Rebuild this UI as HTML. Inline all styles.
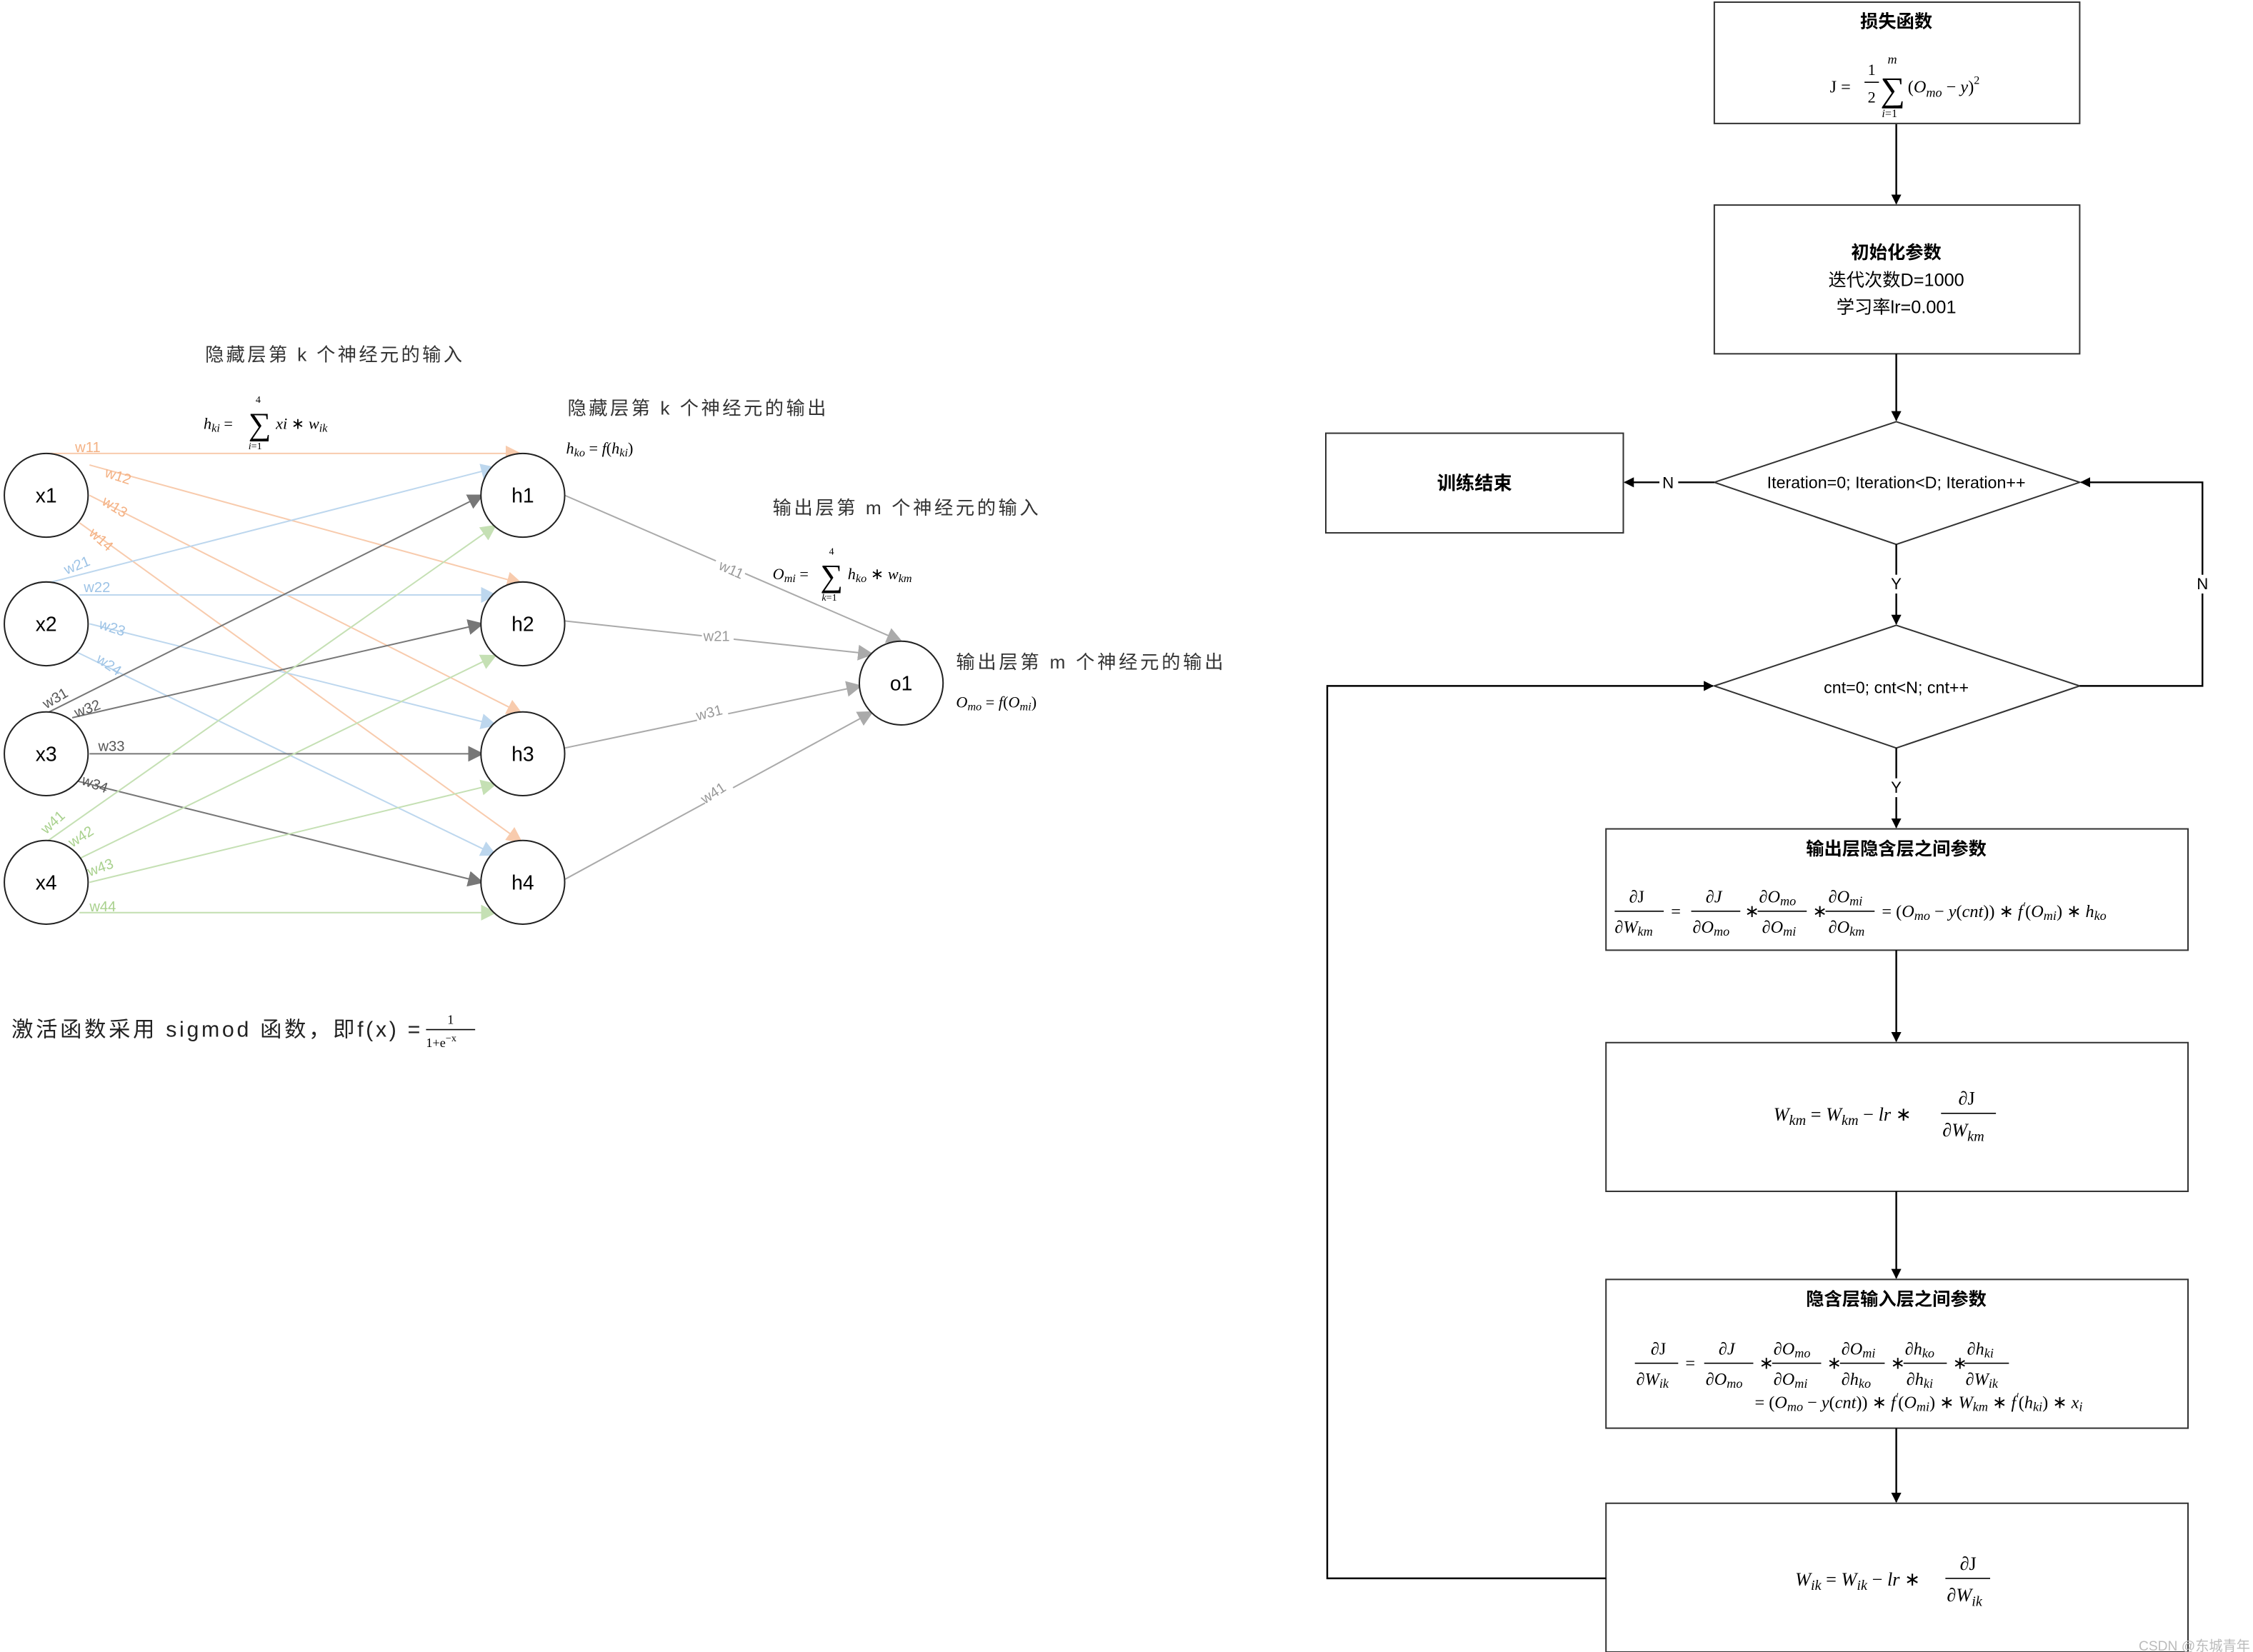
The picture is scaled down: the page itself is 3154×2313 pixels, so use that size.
<!DOCTYPE html>
<html><head><meta charset="utf-8"><style>
html,body{margin:0;padding:0;background:#fff;}
svg{display:block;}
text{font-family:"Liberation Sans","Noto Sans CJK SC",sans-serif;}
text.m, .m text, .m tspan, text.m tspan{font-family:"Liberation Serif","Noto Serif CJK SC",serif;font-style:italic;}
text.n, .m text.n, .m tspan.n, text.m tspan.n, .n tspan{font-family:"Liberation Serif",serif;font-style:normal;}
</style></head><body>
<svg width="3154" height="2313" viewBox="0 0 1560 1144" preserveAspectRatio="none" xmlns="http://www.w3.org/2000/svg">
<defs>
<marker id="aK" viewBox="0 0 10 10" refX="9" refY="5" markerWidth="7" markerHeight="7" markerUnits="userSpaceOnUse" orient="auto"><path d="M0,0L10,5L0,10z" fill="#000"/></marker>
<marker id="aD" viewBox="0 0 10 10" refX="9" refY="5" markerWidth="11" markerHeight="11" markerUnits="userSpaceOnUse" orient="auto"><path d="M0,0L10,5L0,10z" fill="#777"/></marker>
<marker id="aG" viewBox="0 0 10 10" refX="9" refY="5" markerWidth="11" markerHeight="11" markerUnits="userSpaceOnUse" orient="auto"><path d="M0,0L10,5L0,10z" fill="#aaa"/></marker>
<marker id="aO" viewBox="0 0 10 10" refX="9" refY="5" markerWidth="11" markerHeight="11" markerUnits="userSpaceOnUse" orient="auto"><path d="M0,0L10,5L0,10z" fill="#f8cbad"/></marker>
<marker id="aB" viewBox="0 0 10 10" refX="9" refY="5" markerWidth="11" markerHeight="11" markerUnits="userSpaceOnUse" orient="auto"><path d="M0,0L10,5L0,10z" fill="#bdd7ee"/></marker>
<marker id="aN" viewBox="0 0 10 10" refX="9" refY="5" markerWidth="11" markerHeight="11" markerUnits="userSpaceOnUse" orient="auto"><path d="M0,0L10,5L0,10z" fill="#c5e0b4"/></marker>
</defs>

<g fill="none" stroke-width="1">
<g stroke="#f8cbad" marker-end="url(#aO)">
<line x1="32" y1="314" x2="360" y2="314"/>
<line x1="62" y1="322" x2="361" y2="404"/>
<line x1="62" y1="343" x2="361" y2="494"/>
<line x1="55" y1="362" x2="361" y2="583"/>
</g>
<g stroke="#bdd7ee" marker-end="url(#aB)">
<line x1="32" y1="404" x2="343" y2="324"/>
<line x1="55" y1="412" x2="343" y2="412"/>
<line x1="62" y1="432" x2="343" y2="502"/>
<line x1="52" y1="451" x2="343" y2="592"/>
</g>
<g stroke="#777" marker-end="url(#aD)">
<line x1="32" y1="494" x2="334" y2="343"/>
<line x1="50" y1="497" x2="334" y2="432"/>
<line x1="62" y1="522" x2="334" y2="522"/>
<line x1="50" y1="540" x2="334" y2="611"/>
</g>
<g stroke="#c5e0b4" marker-end="url(#aN)">
<line x1="32" y1="583" x2="343" y2="364"/>
<line x1="52" y1="596" x2="343" y2="454"/>
<line x1="62" y1="611" x2="343" y2="543"/>
<line x1="55" y1="632" x2="343" y2="632"/>
</g>
<g stroke="#aaa" marker-end="url(#aG)">
<line x1="391" y1="343" x2="624" y2="444"/>
<line x1="391" y1="430" x2="604" y2="453"/>
<line x1="391" y1="518" x2="596" y2="475"/>
<line x1="391" y1="609" x2="604" y2="493"/>
</g>
</g>

<g font-size="10">
<g fill="#f4b183">
<text x="52" y="313">w11</text>
<text x="72" y="330" transform="rotate(18 72 330)">w12</text>
<text x="70" y="349" transform="rotate(32 70 349)">w13</text>
<text x="61" y="370" transform="rotate(42 61 370)">w14</text>
</g>
<g fill="#9dc3e6">
<text x="46" y="398" transform="rotate(-22 46 398)">w21</text>
<text x="58" y="410">w22</text>
<text x="68" y="435" transform="rotate(18 68 435)">w23</text>
<text x="66" y="458" transform="rotate(34 66 458)">w24</text>
</g>
<g fill="#555">
<text x="32" y="491" transform="rotate(-30 32 491)">w31</text>
<text x="53" y="497" transform="rotate(-20 53 497)">w32</text>
<text x="68" y="520">w33</text>
<text x="56" y="543" transform="rotate(20 56 543)">w34</text>
</g>
<g fill="#a9d18e">
<text x="32" y="578" transform="rotate(-42 32 578)">w41</text>
<text x="50" y="587" transform="rotate(-32 50 587)">w42</text>
<text x="62" y="607" transform="rotate(-20 62 607)">w43</text>
<text x="62" y="631">w44</text>
</g>
<g fill="#999">
<rect x="496" y="385" width="22" height="10" fill="#fff" transform="rotate(24 507 390)"/>
<text x="497" y="394" transform="rotate(24 497 394)">w11</text>
<rect x="486" y="435" width="22" height="10" fill="#fff"/>
<text x="487" y="444">w21</text>
<rect x="482" y="490" width="22" height="10" fill="#fff" transform="rotate(-14 493 495)"/>
<text x="483" y="499" transform="rotate(-14 483 499)">w31</text>
<rect x="487" y="546" width="22" height="10" fill="#fff" transform="rotate(-33 498 551)"/>
<text x="488" y="557" transform="rotate(-33 488 557)">w41</text>
</g>
</g>

<g fill="#fff" stroke="#222" stroke-width="1">
<ellipse cx="32" cy="343" rx="29" ry="29"/>
<ellipse cx="32" cy="432" rx="29" ry="29"/>
<ellipse cx="32" cy="522" rx="29" ry="29"/>
<ellipse cx="32" cy="611" rx="29" ry="29"/>
<ellipse cx="362" cy="343" rx="29" ry="29"/>
<ellipse cx="362" cy="432" rx="29" ry="29"/>
<ellipse cx="362" cy="522" rx="29" ry="29"/>
<ellipse cx="362" cy="611" rx="29" ry="29"/>
<ellipse cx="624" cy="473" rx="29" ry="29"/>
</g>
<g font-size="14" text-anchor="middle" fill="#000">
<text x="32" y="348">x1</text><text x="32" y="437">x2</text><text x="32" y="527">x3</text><text x="32" y="616">x4</text>
<text x="362" y="348">h1</text><text x="362" y="437">h2</text><text x="362" y="527">h3</text><text x="362" y="616">h4</text>
<text x="624" y="478">o1</text>
</g>

<g font-size="13" fill="#333">
<text x="142" y="250" textLength="178" lengthAdjust="spacing">隐藏层第 k 个神经元的输入</text>
<text x="393" y="287" textLength="179" lengthAdjust="spacing">隐藏层第 k 个神经元的输出</text>
<text x="535" y="356" textLength="184" lengthAdjust="spacing">输出层第 m 个神经元的输入</text>
<text x="662" y="463" textLength="185" lengthAdjust="spacing">输出层第 m 个神经元的输出</text>
</g>
<g fill="#000">
<text class="m" x="141" y="297" font-size="11">h<tspan font-size="8" dy="2">ki</tspan><tspan class="n" dy="-2"> = </tspan></text>
<text class="n" x="172" y="301" font-size="22">∑</text>
<text class="n" x="177" y="279" font-size="7">4</text>
<text class="m" x="172" y="311" font-size="7">i<tspan class="n">=1</tspan></text>
<text class="m" x="191" y="297" font-size="11">xi <tspan class="n">∗</tspan> w<tspan font-size="8" dy="2">ik</tspan></text>

<text class="m" x="392" y="314" font-size="11">h<tspan font-size="8" dy="2">ko</tspan><tspan class="n" dy="-2"> = </tspan>f<tspan class="n">(</tspan>h<tspan font-size="8" dy="2">ki</tspan><tspan class="n" dy="-2">)</tspan></text>

<text class="m" x="535" y="401" font-size="11">O<tspan font-size="8" dy="2">mi</tspan><tspan class="n" dy="-2"> = </tspan></text>
<text class="n" x="568" y="406" font-size="22">∑</text>
<text class="n" x="574" y="384" font-size="7">4</text>
<text class="m" x="569" y="416" font-size="7">k<tspan class="n">=1</tspan></text>
<text class="m" x="587" y="401" font-size="11">h<tspan font-size="8" dy="2">ko</tspan><tspan class="n" dy="-2"> ∗ </tspan>w<tspan font-size="8" dy="2">km</tspan></text>

<text class="m" x="662" y="490" font-size="11">O<tspan font-size="8" dy="2">mo</tspan><tspan class="n" dy="-2"> = </tspan>f<tspan class="n">(</tspan>O<tspan font-size="8" dy="2">mi</tspan><tspan class="n" dy="-2">)</tspan></text>

<text x="8" y="718" font-size="15" fill="#222" textLength="283" lengthAdjust="spacing">激活函数采用 sigmod 函数，即f(x) =</text>
<text class="n" x="312" y="709" font-size="9" text-anchor="middle">1</text>
<line x1="295" y1="713" x2="329" y2="713" stroke="#000" stroke-width="0.8"/>
<text class="n" x="295" y="725" font-size="9">1+<tspan class="m">e</tspan><tspan font-size="7" dy="-4">−<tspan class="m">x</tspan></tspan></text>
</g>

<g fill="#fff" stroke="#333" stroke-width="1">
<rect x="1187" y="1.5" width="253" height="84"/>
<rect x="1187" y="142" width="253" height="103"/>
<rect x="918" y="300" width="206" height="69"/>
<polygon points="1187,334 1313,292 1440,334 1313,377"/>
<polygon points="1187,475 1313,433 1440,475 1313,518"/>
<rect x="1112" y="574" width="403" height="84"/>
<rect x="1112" y="722" width="403" height="103"/>
<rect x="1112" y="886" width="403" height="103"/>
<rect x="1112" y="1041" width="403" height="103"/>
</g>
<g fill="none" stroke="#000" stroke-width="1.2">
<line x1="1313" y1="86" x2="1313" y2="141" marker-end="url(#aK)"/>
<line x1="1313" y1="245" x2="1313" y2="291" marker-end="url(#aK)"/>
<line x1="1313" y1="377" x2="1313" y2="398"/>
<line x1="1313" y1="411" x2="1313" y2="432" marker-end="url(#aK)"/>
<line x1="1313" y1="518" x2="1313" y2="539"/>
<line x1="1313" y1="552" x2="1313" y2="573" marker-end="url(#aK)"/>
<line x1="1187" y1="334" x2="1162" y2="334"/>
<line x1="1149" y1="334" x2="1125" y2="334" marker-end="url(#aK)"/>
<polyline points="1440,475 1525,475 1525,411"/>
<polyline points="1525,398 1525,334 1441,334" marker-end="url(#aK)"/>
<polyline points="1112,1093 919,1093 919,475 1186,475" marker-end="url(#aK)"/>
<line x1="1313" y1="658" x2="1313" y2="721" marker-end="url(#aK)"/>
<line x1="1313" y1="825" x2="1313" y2="885" marker-end="url(#aK)"/>
<line x1="1313" y1="989" x2="1313" y2="1040" marker-end="url(#aK)"/>
</g>
<g font-size="11" fill="#000" text-anchor="middle">
<text x="1313" y="408">Y</text>
<text x="1313" y="549">Y</text>
<text x="1525" y="408">N</text>
<text x="1155" y="338">N</text>
<text x="1313" y="338" font-size="11.5">Iteration=0; Iteration&lt;D; Iteration++</text>
<text x="1313" y="480" font-size="11.5">cnt=0; cnt&lt;N; cnt++</text>
<text x="1021" y="339" font-size="13" font-weight="bold">训练结束</text>
<text x="1313" y="19" font-size="12.5" font-weight="bold">损失函数</text>
<text x="1313" y="179" font-size="12.5" font-weight="bold">初始化参数</text>
<text x="1313" y="198" font-size="12.5">迭代次数D=1000</text>
<text x="1313" y="217" font-size="12.5">学习率lr=0.001</text>
<text x="1313" y="592" font-size="12.5" font-weight="bold">输出层隐含层之间参数</text>
<text x="1313" y="904" font-size="12.5" font-weight="bold">隐含层输入层之间参数</text>
</g>

<g fill="#000">
<text class="n" x="1267" y="64" font-size="12">J =</text>
<text class="n" x="1296" y="52" font-size="11" text-anchor="middle">1</text>
<line x1="1291" y1="57" x2="1301" y2="57" stroke="#000" stroke-width="0.8"/>
<text class="n" x="1296" y="71" font-size="11" text-anchor="middle">2</text>
<text class="n" x="1302" y="70" font-size="24">∑</text>
<text class="m" x="1307" y="44" font-size="9">m</text>
<text class="m" x="1303" y="81" font-size="8">i<tspan class="n">=1</tspan></text>
<text class="m" x="1321" y="64" font-size="12"><tspan class="n">(</tspan>O<tspan font-size="9" dy="3">mo</tspan><tspan class="n" dy="-3"> − </tspan>y<tspan class="n">)</tspan><tspan class="n" font-size="8" dy="-6">2</tspan></text>
</g>

<g fill="#000" font-size="12">
<g class="m">
<text x="1128" y="625" class="n">∂J</text>
<text x="1118" y="646">∂W<tspan font-size="9" dy="2">km</tspan></text>
<text x="1157" y="635" class="n">=</text>
<text x="1181" y="625">∂J</text>
<text x="1172" y="646">∂O<tspan font-size="9" dy="2">mo</tspan></text>
<text x="1208" y="635" class="n">∗</text>
<text x="1218" y="625">∂O<tspan font-size="9" dy="2">mo</tspan></text>
<text x="1220" y="646">∂O<tspan font-size="9" dy="2">mi</tspan></text>
<text x="1255" y="635" class="n">∗</text>
<text x="1266" y="625">∂O<tspan font-size="9" dy="2">mi</tspan></text>
<text x="1266" y="646">∂O<tspan font-size="9" dy="2">km</tspan></text>
<text x="1303" y="635"><tspan class="n">= (</tspan>O<tspan font-size="9" dy="2">mo</tspan><tspan class="n" dy="-2"> − </tspan>y<tspan class="n">(</tspan>cnt<tspan class="n">)) ∗ </tspan>f<tspan font-size="8" dy="-5">′</tspan><tspan class="n" dy="5">(</tspan>O<tspan font-size="9" dy="2">mi</tspan><tspan class="n" dy="-2">) ∗ </tspan>h<tspan font-size="9" dy="2">ko</tspan></text>
</g>
<g stroke="#000" stroke-width="0.8">
<line x1="1118" y1="631" x2="1152" y2="631"/>
<line x1="1171" y1="631" x2="1205" y2="631"/>
<line x1="1217" y1="631" x2="1251" y2="631"/>
<line x1="1264" y1="631" x2="1298" y2="631"/>
</g>
</g>

<g fill="#000" font-size="13">
<text class="m" x="1228" y="776">W<tspan font-size="10" dy="3">km</tspan><tspan class="n" dy="-3"> = </tspan>W<tspan font-size="10" dy="3">km</tspan><tspan class="n" dy="-3"> − </tspan>lr<tspan class="n"> ∗</tspan></text>
<text class="n" x="1356" y="765">∂J</text>
<text class="m" x="1345" y="787">∂W<tspan font-size="10" dy="3">km</tspan></text>
<line x1="1344" y1="771" x2="1382" y2="771" stroke="#000" stroke-width="0.8"/>
</g>

<g fill="#000" font-size="12">
<g class="m">
<text x="1143" y="938" class="n">∂J</text>
<text x="1133" y="959">∂W<tspan font-size="9" dy="2">ik</tspan></text>
<text x="1167" y="948" class="n">=</text>
<text x="1190" y="938">∂J</text>
<text x="1181" y="959">∂O<tspan font-size="9" dy="2">mo</tspan></text>
<text x="1218" y="948" class="n">∗</text>
<text x="1228" y="938">∂O<tspan font-size="9" dy="2">mo</tspan></text>
<text x="1228" y="959">∂O<tspan font-size="9" dy="2">mi</tspan></text>
<text x="1265" y="948" class="n">∗</text>
<text x="1275" y="938">∂O<tspan font-size="9" dy="2">mi</tspan></text>
<text x="1275" y="959">∂h<tspan font-size="9" dy="2">ko</tspan></text>
<text x="1309" y="948" class="n">∗</text>
<text x="1319" y="938">∂h<tspan font-size="9" dy="2">ko</tspan></text>
<text x="1320" y="959">∂h<tspan font-size="9" dy="2">ki</tspan></text>
<text x="1352" y="948" class="n">∗</text>
<text x="1362" y="938">∂h<tspan font-size="9" dy="2">ki</tspan></text>
<text x="1361" y="959">∂W<tspan font-size="9" dy="2">ik</tspan></text>
<text x="1215" y="975"><tspan class="n">= (</tspan>O<tspan font-size="9" dy="2">mo</tspan><tspan class="n" dy="-2"> − </tspan>y<tspan class="n">(</tspan>cnt<tspan class="n">)) ∗ </tspan>f<tspan font-size="8" dy="-5">′</tspan><tspan class="n" dy="5">(</tspan>O<tspan font-size="9" dy="2">mi</tspan><tspan class="n" dy="-2">) ∗ </tspan>W<tspan font-size="9" dy="2">km</tspan><tspan class="n" dy="-2"> ∗ </tspan>f<tspan font-size="8" dy="-5">′</tspan><tspan class="n" dy="5">(</tspan>h<tspan font-size="9" dy="2">ki</tspan><tspan class="n" dy="-2">) ∗ </tspan>x<tspan font-size="9" dy="2">i</tspan></text>
</g>
<g stroke="#000" stroke-width="0.8">
<line x1="1132" y1="944" x2="1162" y2="944"/>
<line x1="1180" y1="944" x2="1214" y2="944"/>
<line x1="1227" y1="944" x2="1261" y2="944"/>
<line x1="1274" y1="944" x2="1305" y2="944"/>
<line x1="1318" y1="944" x2="1348" y2="944"/>
<line x1="1360" y1="944" x2="1391" y2="944"/>
</g>
</g>

<g fill="#000" font-size="13">
<text class="m" x="1243" y="1098">W<tspan font-size="10" dy="3">ik</tspan><tspan class="n" dy="-3"> = </tspan>W<tspan font-size="10" dy="3">ik</tspan><tspan class="n" dy="-3"> − </tspan>lr<tspan class="n"> ∗</tspan></text>
<text class="n" x="1357" y="1087">∂J</text>
<text class="m" x="1348" y="1109">∂W<tspan font-size="10" dy="3">ik</tspan></text>
<line x1="1347" y1="1093" x2="1378" y2="1093" stroke="#000" stroke-width="0.8"/>
</g>

<text x="1558" y="1143" font-size="9.5" fill="#bbb" text-anchor="end">CSDN @东城青年</text>
</svg>
</body></html>
